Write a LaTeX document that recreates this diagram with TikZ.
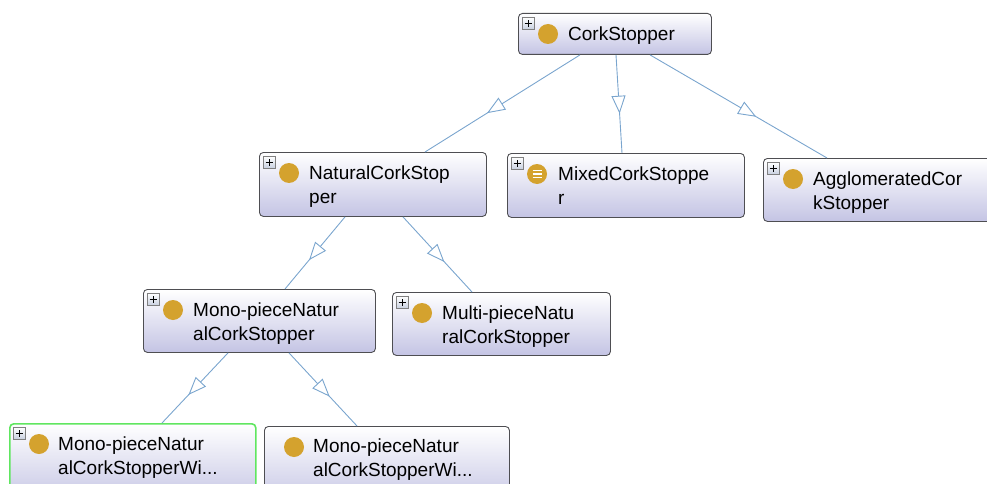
\documentclass[tikz,border=0pt]{standalone}
\usepackage{fontspec}
\setmainfont{Liberation Sans}
\usepackage{xcolor}
\usetikzlibrary{positioning,arrows.meta,calc,decorations.markings}

\definecolor{edgeblue}{RGB}{122,165,206}
\definecolor{boxline}{RGB}{78,78,82}
\definecolor{boxlav}{RGB}{196,196,228}
\definecolor{dotgold}{RGB}{212,162,46}
\definecolor{selgreen}{RGB}{96,230,96}
\definecolor{plusfill}{RGB}{200,208,224}

\begin{document}
\begin{tikzpicture}[x=1pt, y=-1pt,
  cls/.style={draw=boxline, line width=0.9pt, rounded corners=4pt, top color=white, bottom color=boxlav,
    anchor=north west, inner sep=0pt},
  lab/.style={font=\fontsize{19}{24}\selectfont, align=left, anchor=north west, inner sep=0pt},
  dot/.style={circle, fill=dotgold, minimum size=20pt, inner sep=0pt},
  plus/.style={draw=gray, line width=0.7pt, top color=white, bottom color=plusfill, minimum size=12pt,
    inner sep=0pt, anchor=north west,
    path picture={\draw[black, line width=1.4pt]
      ([xshift=2.3pt]path picture bounding box.west) -- ([xshift=-2.3pt]path picture bounding box.east)
      ([yshift=2.3pt]path picture bounding box.south) -- ([yshift=-2.3pt]path picture bounding box.north);}},
  isa/.style={draw=edgeblue, line width=0.9pt, postaction={decorate},
    decoration={markings, mark=at position 0.6 with {\arrow{Triangle[length=18pt, width=14pt, fill=white]}}}}]
\clip (0,0) rectangle (987,484);

% class boxes
\node[cls, minimum width=193pt, minimum height=41pt] (cork) at (518,13) {};
\node[cls, minimum width=227pt, minimum height=64pt] (natural) at (259,152) {};
\node[cls, minimum width=237pt, minimum height=64pt] (mixed) at (507,153) {};
\node[cls, minimum width=240pt, minimum height=63pt] (agglo) at (763,158) {};
\node[cls, minimum width=232pt, minimum height=63pt] (mono) at (143,289) {};
\node[cls, minimum width=218pt, minimum height=63pt] (multi) at (392,292) {};
\node[cls, draw=selgreen, line width=1.6pt, minimum width=246pt, minimum height=80pt] (monoA) at (9,423) {};
\node[cls, minimum width=245pt, minimum height=80pt] (monoB) at (264,426) {};

% expand markers and class icons
\foreach \n in {cork,natural,mixed,agglo,mono,multi,monoA}
  \node[plus] (\n-plus) at ([shift={(4,4)}]\n.north west) {};
\foreach \n in {cork,natural,mixed,agglo,mono,multi,monoA,monoB}
  \node[dot] (\n-dot) at ([shift={(30,21)}]\n.north west) {};
\foreach \d in {-3.6,0,3.6}
  \draw[white, line width=1.4pt] ([shift={(-4.5,\d)}]mixed-dot.center) -- ++(9,0);

% labels
\node[lab] (cork-t) at ([shift={(50,14)}]cork.north west) {CorkStopper};
\node[lab] (natural-t) at ([shift={(50,14)}]natural.north west) {NaturalCorkStop\\per};
\node[lab] (mixed-t) at ([shift={(51,14)}]mixed.north west) {MixedCorkStoppe\\r};
\node[lab] (agglo-t) at ([shift={(50,14)}]agglo.north west) {AgglomeratedCor\\kStopper};
\node[lab] (mono-t) at ([shift={(50,14)}]mono.north west) {Mono-pieceNatur\\alCorkStopper};
\node[lab] (multi-t) at ([shift={(50,14)}]multi.north west) {Multi-pieceNatu\\ralCorkStopper};
\node[lab] (monoA-t) at ([shift={(49,14)}]monoA.north west) {Mono-pieceNatur\\alCorkStopperWi...};
\node[lab] (monoB-t) at ([shift={(49,13)}]monoB.north west) {Mono-pieceNatur\\alCorkStopperWi...};

% subclass edges
\draw[isa] ([xshift=62pt]cork.south west) -- ([xshift=166pt]natural.north west);
\draw[isa] ([xshift=98pt]cork.south west) -- ([xshift=115pt]mixed.north west);
\draw[isa] ([xshift=132pt]cork.south west) -- ([xshift=64pt]agglo.north west);
\draw[isa] ([xshift=86pt]natural.south west) -- ([xshift=142pt]mono.north west);
\draw[isa] ([xshift=144pt]natural.south west) -- ([xshift=80pt]multi.north west);
\draw[isa] ([xshift=85pt]mono.south west) -- ([xshift=153pt]monoA.north west);
\draw[isa] ([xshift=146pt]mono.south west) -- ([xshift=93pt]monoB.north west);
\end{tikzpicture}
\end{document}
